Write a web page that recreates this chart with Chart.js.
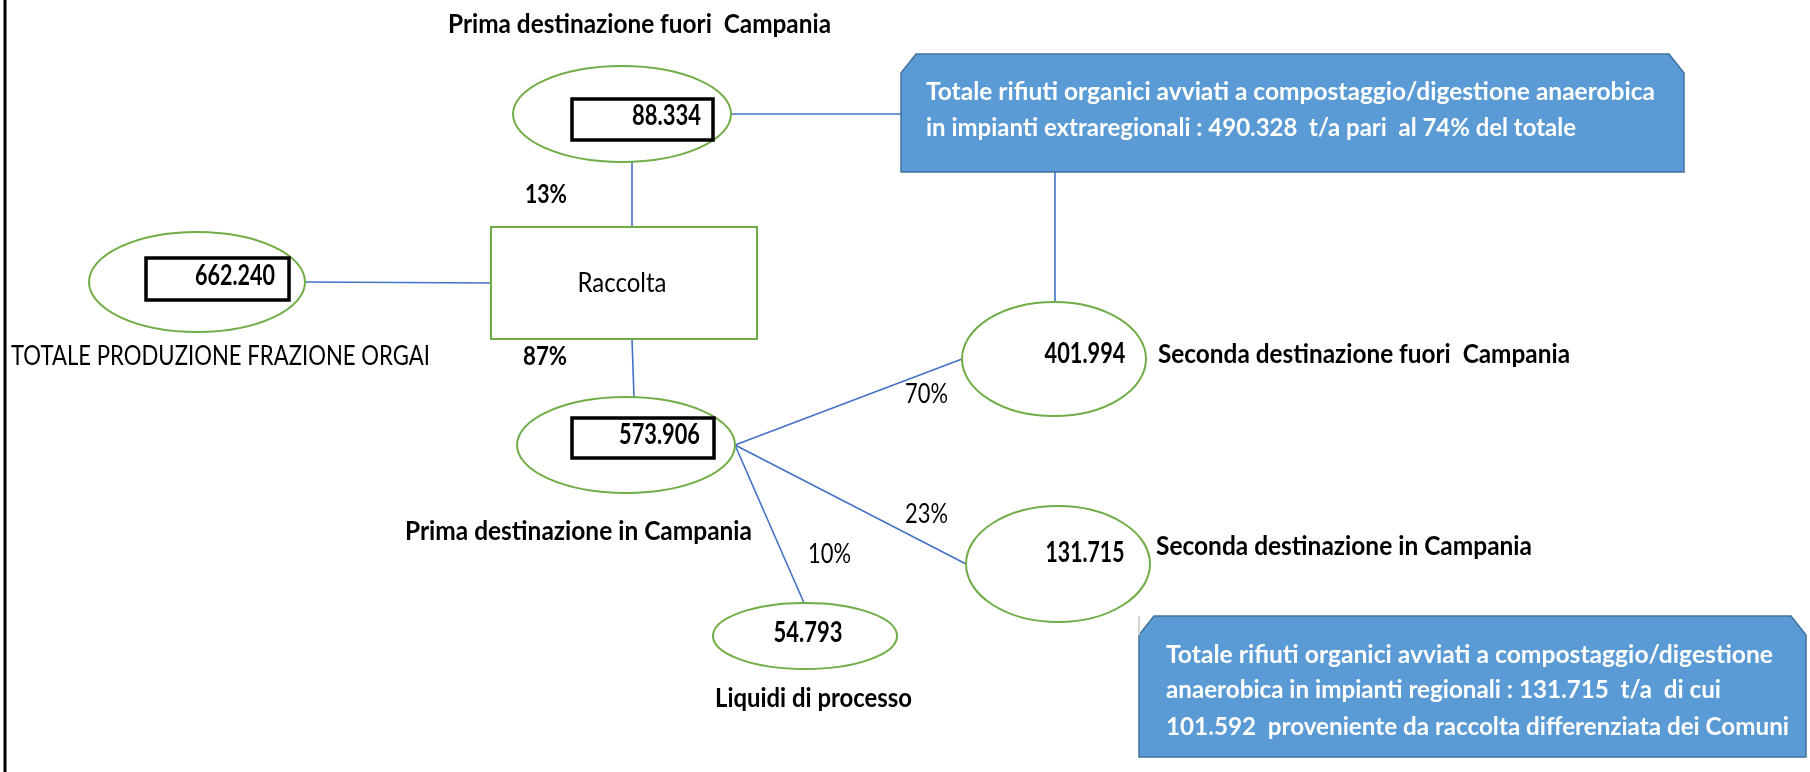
<!DOCTYPE html>
<html>
<head>
<meta charset="utf-8">
<script src="https://cdn.jsdelivr.net/npm/chart.js@4.4.1/dist/chart.umd.min.js"></script>
<style>
  body { margin: 0; background: #fff; }
  #wrap { width: 1810px; height: 772px; }
</style>
</head>
<body>
<div id="wrap"><canvas id="flowChart"></canvas></div>
<script>
// Dati del flusso (t/a)
var nodeLabels = ['TOTALE PRODUZIONE FRAZIONE ORGAI', 'Raccolta', 'Prima destinazione fuori  Campania',
    'Prima destinazione in Campania', 'Seconda destinazione fuori  Campania',
    'Seconda destinazione in Campania', 'Liquidi di processo'];
var nodeValues = [662240, null, 88334, 573906, 401994, 131715, 54793];
var linkFrom = [0, 1, 1, 3, 3, 3];
var linkTo = [1, 2, 3, 4, 5, 6];
var linkPct = ['', '13%', '87%', '70%', '23%', '10%'];
var extraTotal = 490328;
var extraShare = '74%';
var regionalTotal = 131715;
var regionalComuni = 101592;

// Layout (coordinate del diagramma)
var nodeShape = ['ellipse', 'rect', 'ellipse', 'ellipse', 'ellipse', 'ellipse', 'ellipse'];
var nodeCx = [197, 624, 622, 626, 1054, 1058, 805];
var nodeCy = [282, 283, 114, 445, 359, 564, 636];
var nodeRx = [108, 133, 109, 109, 92, 92, 92];
var nodeRy = [50, 56, 48, 48, 57, 58, 33];
var nodePortX = [197, 632, 632, 634, 1055, 1058, 804];
var innerBox = [[146, 258, 289, 300], null, [572, 99, 713, 140], [572, 418, 714, 458], null, null, null];
var fromSide = ['r', 't', 'b', 'r', 'r', 'r'];
var toSide = ['l', 'b', 't', 'l', 'l', 't'];

var valueX = [275, 0, 701, 700, 1085, 1085, 808];
var valueY = [285, 0, 125, 444, 363, 562, 642];
var valueW = [80, 0, 69, 81, 81, 79, 69];
var valueAlign = ['right', '', 'right', 'right', 'center', 'center', 'center'];

var labelX = [11, 622, 448, 405, 1158, 1156, 715];
var labelY = [365, 292, 33, 540, 363, 555, 707];
var labelW = [419, 89, 383, 347, 412, 376, 197];
var labelAlign = ['left', 'center', 'left', 'left', 'left', 'left', 'left'];
var labelBold = [false, false, true, true, true, true, true];

var pctX = [0, 525, 523, 905, 905, 808];
var pctY = [0, 203, 365, 403, 523, 563];
var pctW = [0, 42, 44, 43, 43, 43];
var pctBold = [false, true, true, false, false, false];

var callouts = [[901, 54, 1684, 172], [1139, 616, 1806, 757]];
var calloutTextX = [926, 1166];
var calloutLineY = [[100, 136], [663, 698, 735]];
var calloutLineW = [[729, 650], [607, 555, 623]];

function fmt(n) {
    return String(n).replace(/\B(?=(\d{3})+(?!\d))/g, '.');
}

var calloutText = [
    ['Totale rifiuti organici avviati a compostaggio/digestione anaerobica',
     'in impianti extraregionali : ' + fmt(extraTotal) + '  t/a pari  al ' + extraShare + ' del totale'],
    ['Totale rifiuti organici avviati a compostaggio/digestione',
     'anaerobica in impianti regionali : ' + fmt(regionalTotal) + '  t/a  di cui',
     fmt(regionalComuni) + '  proveniente da raccolta differenziata dei Comuni']
];

function anchor(i, side) {
    if (side == 'r') return { x: nodeCx[i] + nodeRx[i], y: nodeCy[i] };
    if (side == 'l') return { x: nodeCx[i] - nodeRx[i], y: nodeCy[i] };
    if (side == 't') return { x: nodePortX[i], y: nodeCy[i] - nodeRy[i] };
    return { x: nodePortX[i], y: nodeCy[i] + nodeRy[i] };
}

var lineColor = '#4472C4';
var datasets = [];
for (var k = 0; k < linkFrom.length; k++) {
    datasets.push({
        data: [anchor(linkFrom[k], fromSide[k]), anchor(linkTo[k], toSide[k])],
        showLine: true, borderColor: lineColor, borderWidth: 1.6, pointRadius: 0
    });
}
// collegamenti ai riquadri di testo
var a2 = anchor(2, 'r');
datasets.push({ data: [a2, { x: callouts[0][0], y: a2.y }], showLine: true, borderColor: lineColor, borderWidth: 1.6, pointRadius: 0 });
var a4 = anchor(4, 't');
datasets.push({ data: [{ x: a4.x, y: callouts[0][3] }, a4], showLine: true, borderColor: lineColor, borderWidth: 1.6, pointRadius: 0 });

function drawText(chart, s, x, y, w, align, font, color) {
    var ctx = chart.ctx;
    var sx = chart.scales.x, sy = chart.scales.y;
    var px = sx.getPixelForValue(x), py = sy.getPixelForValue(y);
    var pw = Math.abs(sx.getPixelForValue(x + w) - px);
    ctx.save();
    ctx.font = font;
    var m = ctx.measureText(s).width;
    ctx.translate(px, py);
    ctx.scale(pw / m, 1);
    ctx.textAlign = align;
    ctx.textBaseline = 'alphabetic';
    ctx.fillStyle = color;
    ctx.fillText(s, 0, 0);
    ctx.restore();
}

var diagramPlugin = {
    id: 'diagram',
    beforeDraw: function(chart) {
        var ctx = chart.ctx;
        ctx.save();
        ctx.fillStyle = '#ffffff';
        ctx.fillRect(0, 0, chart.width, chart.height);
        ctx.strokeStyle = '#000000';
        ctx.lineWidth = 3;
        ctx.beginPath();
        ctx.moveTo(5, 0);
        ctx.lineTo(5, chart.height);
        ctx.stroke();
        ctx.restore();
    },
    afterDatasetsDraw: function(chart) {
        var ctx = chart.ctx;
        var sx = chart.scales.x, sy = chart.scales.y;
        var X = function(v) { return sx.getPixelForValue(v); };
        var Y = function(v) { return sy.getPixelForValue(v); };
        ctx.save();

        // riquadri blu
        callouts.forEach(function(c, ci) {
            var x0 = X(c[0]), y0 = Y(c[1]), x1 = X(c[2]), y1 = Y(c[3]);
            ctx.beginPath();
            ctx.moveTo(x0, y0 + 19);
            ctx.lineTo(x0 + 15, y0);
            ctx.lineTo(x1 - 15, y0);
            ctx.lineTo(x1, y0 + 19);
            ctx.lineTo(x1, y1);
            ctx.lineTo(x0, y1);
            ctx.closePath();
            ctx.fillStyle = '#5B9BD5';
            ctx.fill();
            ctx.strokeStyle = '#41719C';
            ctx.lineWidth = 1.5;
            ctx.stroke();
            calloutText[ci].forEach(function(line, li) {
                drawText(chart, line, calloutTextX[ci], calloutLineY[ci][li], calloutLineW[ci][li],
                    'left', 'bold 25px Lato', '#ffffff');
            });
        });
        ctx.strokeStyle = '#d4d4d4';
        ctx.lineWidth = 2;
        ctx.beginPath();
        ctx.moveTo(X(callouts[1][0]), Y(callouts[1][1]));
        ctx.lineTo(X(callouts[1][0]), Y(callouts[1][1] + 19));
        ctx.stroke();

        // nodi
        for (var i = 0; i < nodeLabels.length; i++) {
            ctx.strokeStyle = '#70AD47';
            ctx.lineWidth = 2;
            ctx.beginPath();
            if (nodeShape[i] == 'rect') {
                ctx.rect(X(nodeCx[i] - nodeRx[i]), Y(nodeCy[i] - nodeRy[i]),
                    X(nodeCx[i] + nodeRx[i]) - X(nodeCx[i] - nodeRx[i]),
                    Y(nodeCy[i] + nodeRy[i]) - Y(nodeCy[i] - nodeRy[i]));
            } else {
                ctx.ellipse(X(nodeCx[i]), Y(nodeCy[i]),
                    X(nodeCx[i] + nodeRx[i]) - X(nodeCx[i]),
                    Y(nodeCy[i] + nodeRy[i]) - Y(nodeCy[i]), 0, 0, Math.PI * 2);
            }
            ctx.stroke();
            var b = innerBox[i];
            if (b) {
                ctx.strokeStyle = '#000000';
                ctx.lineWidth = 3.5;
                ctx.strokeRect(X(b[0]), Y(b[1]), X(b[2]) - X(b[0]), Y(b[3]) - Y(b[1]));
            }
            if (nodeValues[i] !== null) {
                drawText(chart, fmt(nodeValues[i]), valueX[i], valueY[i], valueW[i], valueAlign[i],
                    'bold 29px Lato', '#000000');
            }
            drawText(chart, nodeLabels[i], labelX[i], labelY[i], labelW[i], labelAlign[i],
                (labelBold[i] ? 'bold ' : '') + '26px Lato', '#000000');
        }

        // percentuali
        for (var k = 0; k < linkPct.length; k++) {
            if (!linkPct[k]) continue;
            drawText(chart, linkPct[k], pctX[k], pctY[k], pctW[k], 'left',
                (pctBold[k] ? 'bold ' : '') + '26px Lato', '#000000');
        }
        ctx.restore();
    }
};

var ctxFlow = document.getElementById('flowChart').getContext('2d');
var flowChart = new Chart(ctxFlow, {
    type: 'scatter',
    data: { datasets: datasets },
    options: {
        responsive: true,
        maintainAspectRatio: false,
        animation: false,
        layout: { padding: 0 },
        plugins: { legend: { display: false }, tooltip: { enabled: false } },
        scales: {
            x: { type: 'linear', min: 0, max: 1810, display: false },
            y: { type: 'linear', min: 0, max: 772, reverse: true, display: false }
        }
    },
    plugins: [diagramPlugin]
});
</script>
</body>
</html>
